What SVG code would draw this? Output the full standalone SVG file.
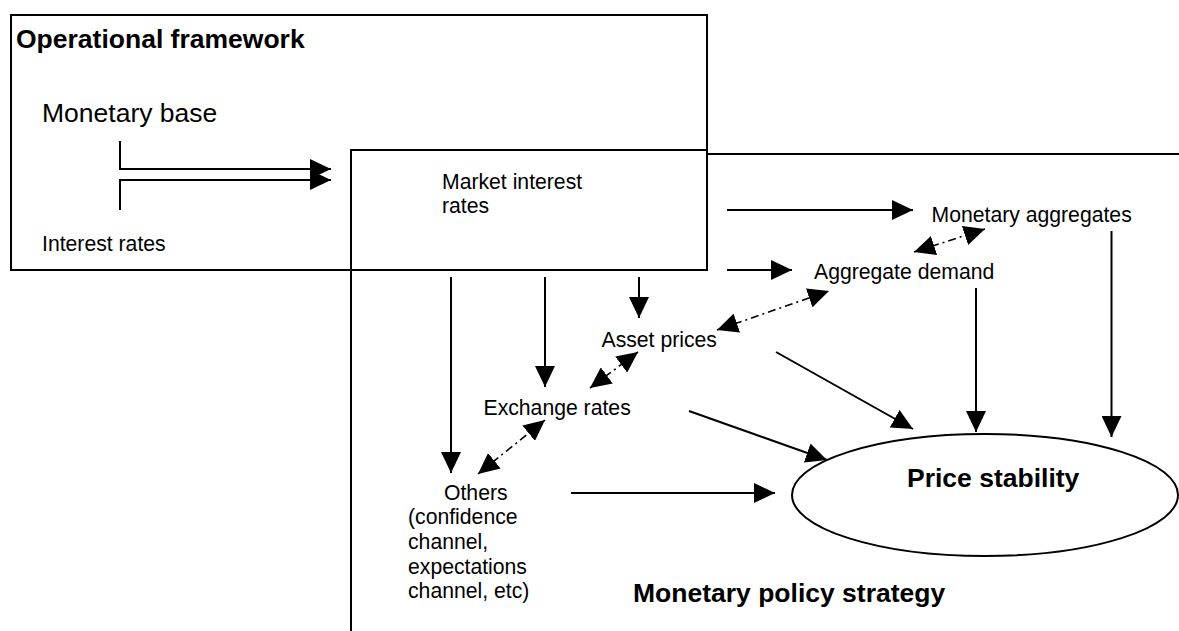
<svg xmlns="http://www.w3.org/2000/svg" width="1179" height="631" viewBox="0 0 1179 631">
<style>
  text { font-family: "Liberation Sans", Arial, sans-serif; fill: #000; }
  .t { font-size: 21.2px; }
  .big { font-size: 26.5px; }
  .bold { font-size: 26.5px; font-weight: bold; }
  .box { fill: none; stroke: #000; stroke-width: 2; }
  .arr { fill: none; stroke: #000; stroke-width: 2; marker-end: url(#ah); }
  .dd { fill: none; stroke: #000; stroke-width: 1.6; stroke-dasharray: 8 4 2 4; marker-start: url(#ahs); marker-end: url(#ah); }
</style>
<defs>
  <marker id="ah" markerUnits="userSpaceOnUse" markerWidth="21" markerHeight="20" refX="21" refY="10" orient="auto">
    <path d="M0,0 L21,10 L0,20 z" fill="#000"/>
  </marker>
  <marker id="ahs" markerUnits="userSpaceOnUse" markerWidth="21" markerHeight="20" refX="21" refY="10" orient="auto-start-reverse">
    <path d="M0,0 L21,10 L0,20 z" fill="#000"/>
  </marker>
</defs>
<rect width="1179" height="631" fill="#fff"/>

<g id="operational-framework">
  <rect class="box" x="11" y="15" width="696" height="255"/>
  <text class="bold" x="16" y="48">Operational framework</text>
</g>
<g id="monetary-policy-strategy">
  <path class="box" d="M351,631 V150 M707,154 H1179"/>
  <text class="bold" x="633" y="602">Monetary policy strategy</text>
</g>
<g id="monetary-base">
  <text class="big" x="42" y="122">Monetary base</text>
</g>
<g id="interest-rates">
  <text class="t" x="42" y="251">Interest rates</text>
</g>
<g id="market-interest-rates">
  <rect class="box" x="351" y="150" width="356" height="120"/>
  <text class="t" x="442" y="189">Market interest</text>
  <text class="t" x="442" y="213">rates</text>
</g>
<g id="monetary-aggregates">
  <text class="t" x="931.5" y="222">Monetary aggregates</text>
</g>
<g id="aggregate-demand">
  <text class="t" x="814" y="279">Aggregate demand</text>
</g>
<g id="asset-prices">
  <text class="t" x="601.5" y="347">Asset prices</text>
</g>
<g id="exchange-rates">
  <text class="t" x="483.5" y="415">Exchange rates</text>
</g>
<g id="others">
  <text class="t" x="444" y="499.5">Others</text>
  <text class="t" x="408" y="524">(confidence</text>
  <text class="t" x="408" y="549">channel,</text>
  <text class="t" x="408" y="573.5">expectations</text>
  <text class="t" x="408" y="598">channel, etc)</text>
</g>
<g id="price-stability">
  <ellipse class="box" cx="985" cy="495" rx="193" ry="61"/>
  <text class="bold" x="907" y="487">Price stability</text>
</g>

<g id="connectors">
  <path class="arr" d="M120,141 V169 H331"/>
  <path class="arr" d="M120,210 V180 H331"/>
  <path class="arr" d="M727,210 H913"/>
  <path class="arr" d="M727,270 H792"/>
  <path class="arr" d="M451,277 V473"/>
  <path class="arr" d="M545,277 V387"/>
  <path class="arr" d="M639,277 V318"/>
  <path class="arr" d="M1111.5,231 V437"/>
  <path class="arr" d="M976,288 V432"/>
  <path class="arr" d="M776,352 L913,429"/>
  <path class="arr" d="M689,411 L827,460"/>
  <path class="arr" d="M571,493 H775"/>
  <path class="dd" d="M914,252 L985,229"/>
  <path class="dd" d="M717,330 L829,291"/>
  <path class="dd" d="M590,388 L638,352"/>
  <path class="dd" d="M478,474 L545,420"/>
</g>
</svg>
